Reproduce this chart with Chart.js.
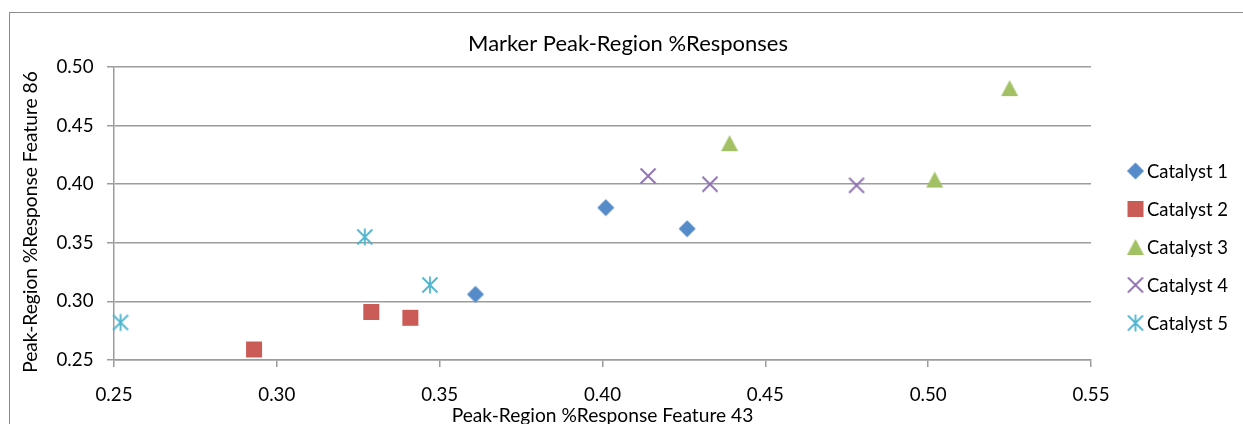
<!DOCTYPE html>
<html>
<head>
<meta charset="utf-8">
<title>Marker Peak-Region %Responses</title>
<script src="https://cdn.jsdelivr.net/npm/chart.js@4.4.1/dist/chart.umd.min.js"></script>
<style>
  html, body { margin: 0; padding: 0; background: #fff; overflow: hidden; }
  #wrap { position: relative; width: 1243px; height: 424px; }
</style>
</head>
<body>
<div id="wrap"><canvas id="chart"></canvas></div>
<script>
// ---- data ----
const seriesNames = ['Catalyst 1', 'Catalyst 2', 'Catalyst 3', 'Catalyst 4', 'Catalyst 5'];

const catalyst1X = [0.401, 0.426, 0.361];
const catalyst1Y = [0.380, 0.362, 0.306];
const catalyst2X = [0.293, 0.329, 0.341];
const catalyst2Y = [0.259, 0.291, 0.286];
const catalyst3X = [0.525, 0.502, 0.439];
const catalyst3Y = [0.482, 0.404, 0.435];
const catalyst4X = [0.414, 0.433, 0.478];
const catalyst4Y = [0.407, 0.400, 0.399];
const catalyst5X = [0.252, 0.327, 0.347];
const catalyst5Y = [0.282, 0.355, 0.314];

const xTickValues = [0.25, 0.30, 0.35, 0.40, 0.45, 0.50, 0.55];
const yTickValues = [0.25, 0.30, 0.35, 0.40, 0.45, 0.50];

const chartTitle = 'Marker Peak-Region %Responses';
const xAxisTitle = 'Peak-Region %Response Feature 43';
const yAxisTitle = 'Peak-Region %Response Feature 86';

// ---- styling ----
const FAMILY = 'Lato, "Open Sans", "DejaVu Sans", sans-serif';
const TEXT = '#000000';
const GRID = '#9c9c9c';
const seriesColors = ['#558bc8', '#cb5b56', '#a2c164', '#8d6fb0', '#4fb5cf'];
const markerKinds = ['diamond', 'square', 'triangle', 'cross', 'star'];

function fitSize(text, width) {
  const g = document.createElement('canvas').getContext('2d');
  g.font = '100px ' + FAMILY;
  return 100 * width / g.measureText(text).width;
}
const bodySize = fitSize(xAxisTitle, 302);
const titleSize = fitSize(chartTitle, 320);
const tickSize = fitSize('0.50', 37);
const legendSize = fitSize('Catalyst 1', 81);

// marker glyphs drawn onto small canvases and used as point styles
function makeMarker(kind, color) {
  const size = 22, m = size / 2;
  const c = document.createElement('canvas');
  c.width = c.height = size;
  const g = c.getContext('2d');
  g.fillStyle = color;
  g.strokeStyle = color;
  g.lineWidth = 1.8;
  g.beginPath();
  if (kind === 'diamond') {
    g.moveTo(m, m - 8.5); g.lineTo(m + 8.5, m); g.lineTo(m, m + 8.5); g.lineTo(m - 8.5, m);
    g.closePath(); g.fill();
  } else if (kind === 'square') {
    g.rect(m - 8, m - 8, 16, 16); g.fill();
  } else if (kind === 'triangle') {
    g.moveTo(m, m - 8); g.lineTo(m + 8.5, m + 8); g.lineTo(m - 8.5, m + 8);
    g.closePath(); g.fill();
  } else if (kind === 'cross') {
    const s = 7.5;
    g.moveTo(m - s, m - s); g.lineTo(m + s, m + s);
    g.moveTo(m + s, m - s); g.lineTo(m - s, m + s);
    g.stroke();
  } else if (kind === 'star') {
    const s = 7.5;
    g.moveTo(m - s, m - s); g.lineTo(m + s, m + s);
    g.moveTo(m + s, m - s); g.lineTo(m - s, m + s);
    g.moveTo(m, m - 8.5); g.lineTo(m, m + 8.5);
    g.stroke();
  }
  return c;
}
const markers = markerKinds.map((k, i) => makeMarker(k, seriesColors[i]));

function toPoints(xs, ys) { return xs.map((x, i) => ({ x: x, y: ys[i] })); }
const seriesData = [
  toPoints(catalyst1X, catalyst1Y),
  toPoints(catalyst2X, catalyst2Y),
  toPoints(catalyst3X, catalyst3Y),
  toPoints(catalyst4X, catalyst4Y),
  toPoints(catalyst5X, catalyst5Y)
];

const datasets = seriesNames.map((name, i) => ({
  label: name,
  data: seriesData[i],
  pointStyle: markers[i],
  pointRadius: 9,
  pointHoverRadius: 9,
  backgroundColor: seriesColors[i],
  borderColor: seriesColors[i],
  showLine: false,
  clip: false
}));

// frame, chart title, vertical axis title and legend
const decorations = {
  id: 'decorations',
  beforeDraw(chart) {
    const g = chart.ctx;
    g.save();
    g.fillStyle = '#ffffff';
    g.fillRect(0, 0, chart.width, chart.height);
    g.restore();
  },
  afterDraw(chart) {
    const g = chart.ctx;
    g.save();
    // outer frame
    g.strokeStyle = '#8c8c8c';
    g.lineWidth = 1;
    g.strokeRect(9.5, 12.5, chart.width + 20, chart.height + 20);

    g.fillStyle = TEXT;
    // chart title
    g.font = titleSize.toFixed(2) + 'px ' + FAMILY;
    g.textAlign = 'center';
    g.textBaseline = 'middle';
    g.fillText(chartTitle, 628, 44);

    // vertical axis title
    g.font = bodySize.toFixed(2) + 'px ' + FAMILY;
    g.save();
    g.translate(31, 222);
    g.rotate(-Math.PI / 2);
    g.fillText(yAxisTitle, 0, 0);
    g.restore();

    // legend
    g.font = legendSize.toFixed(2) + 'px ' + FAMILY;
    g.textAlign = 'left';
    seriesNames.forEach((name, i) => {
      const cy = 171 + i * 38;
      const mk = markers[i];
      g.drawImage(mk, 1135.5 - mk.width / 2, cy - mk.height / 2);
      g.fillText(name, 1147, cy + 1);
    });
    g.restore();
  }
};

new Chart(document.getElementById('chart'), {
  type: 'scatter',
  data: { datasets: datasets },
  plugins: [decorations],
  options: {
    responsive: true,
    maintainAspectRatio: false,
    animation: false,
    devicePixelRatio: 1,
    layout: { padding: { left: 12, right: 152, top: 67, bottom: 0 } },
    plugins: {
      legend: { display: false },
      title: { display: false },
      tooltip: { enabled: false }
    },
    scales: {
      x: {
        type: 'linear',
        min: 0.25,
        max: 0.55,
        afterBuildTicks: s => { s.ticks = xTickValues.map(v => ({ value: v })); },
        afterFit: s => { s.height = 64; },
        ticks: {
          color: TEXT,
          font: { family: FAMILY, size: tickSize },
          padding: 28 - tickSize * 0.6,
          maxRotation: 0,
          autoSkip: false,
          callback: v => Number(v).toFixed(2)
        },
        grid: {
          display: true,
          drawOnChartArea: false,
          drawTicks: true,
          tickLength: 7,
          color: GRID,
          lineWidth: 1.5
        },
        border: { display: true, color: GRID, width: 1.5 },
        title: {
          display: true,
          text: xAxisTitle,
          color: TEXT,
          font: { family: FAMILY, size: bodySize, lineHeight: 1 },
          padding: { top: 0, bottom: 8 - bodySize / 2 }
        }
      },
      y: {
        type: 'linear',
        min: 0.25,
        max: 0.50,
        afterBuildTicks: s => { s.ticks = yTickValues.map(v => ({ value: v })); },
        afterFit: s => { s.width = 102; },
        ticks: {
          color: TEXT,
          font: { family: FAMILY, size: tickSize },
          padding: 13.5,
          autoSkip: false,
          callback: v => Number(v).toFixed(2)
        },
        grid: {
          display: true,
          drawOnChartArea: true,
          drawTicks: true,
          tickLength: 7,
          color: GRID,
          lineWidth: 1.5
        },
        border: { display: true, color: GRID, width: 1.5 }
      }
    }
  }
});
</script>
</body>
</html>
